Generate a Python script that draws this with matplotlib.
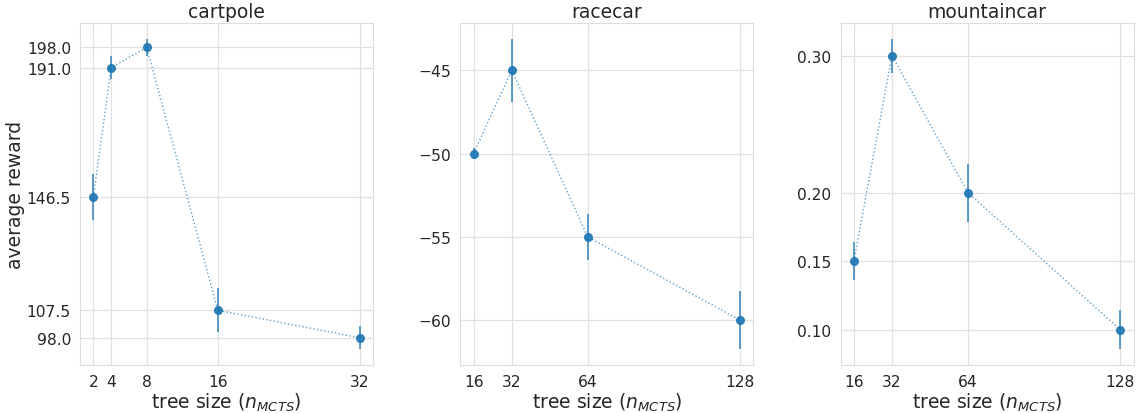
import matplotlib
matplotlib.use("Agg")
import matplotlib.pyplot as plt
import seaborn as sns

sns.set_style("whitegrid")
plt.rcParams['font.family'] = ['DejaVu Sans']

titles = ["cartpole", "racecar", "mountaincar"]

cartpole_x = [2, 4, 8, 16, 32]
cartpole_y = [146.5, 191.0, 198.0, 107.5, 98.0]
cartpole_err = [8.0, 4.0, 3.0, 7.5, 4.0]

racecar_x = [16, 32, 64, 128]
racecar_y = [-50.0, -45.0, -55.0, -60.0]
racecar_err = [0.35, 1.9, 1.4, 1.75]

mountaincar_x = [16, 32, 64, 128]
mountaincar_y = [0.15, 0.30, 0.20, 0.10]
mountaincar_err = [0.014, 0.0125, 0.021, 0.0143]

series = [
    (cartpole_x, cartpole_y, cartpole_err, "{:.1f}"),
    (racecar_x, racecar_y, racecar_err, "{:.0f}"),
    (mountaincar_x, mountaincar_y, mountaincar_err, "{:.2f}"),
]

fig, axes = plt.subplots(1, 3, figsize=(11.44, 4.14), dpi=100)
fig.subplots_adjust(left=0.07, right=0.991, top=0.942, bottom=0.116, wspace=0.297)

blue = "#1f77b4"
for ax, title, (xs, ys, errs, fmt) in zip(axes, titles, series):
    ax.errorbar(xs, ys, yerr=errs, fmt='o', color=blue, markersize=5.5,
                elinewidth=1.1, ecolor=blue, alpha=0.9, capsize=0, zorder=3)
    ax.plot(xs, ys, ':', color=blue, linewidth=1.0, alpha=0.7, zorder=2)
    ax.set_title(title, fontsize=13.5, color="#262626", pad=4)
    ax.set_xticks(xs)
    ax.set_xticklabels([str(x) for x in xs])
    ax.set_yticks(ys)
    ax.set_yticklabels([fmt.format(y).replace("-", "\u2212") for y in ys])
    ax.tick_params(labelsize=11.2, colors="#262626", pad=3)
    ax.set_xlabel(r"tree size ($n_{MCTS}$)", fontsize=13.5, color="#262626", labelpad=1)
    for s in ax.spines.values():
        s.set_color("#dddddd")
    ax.grid(color="#e0e0e0", linewidth=0.9)

axes[0].set_ylabel("average reward", fontsize=13.5, color="#262626", labelpad=1.5)

fig.savefig("out.png", dpi=100)
